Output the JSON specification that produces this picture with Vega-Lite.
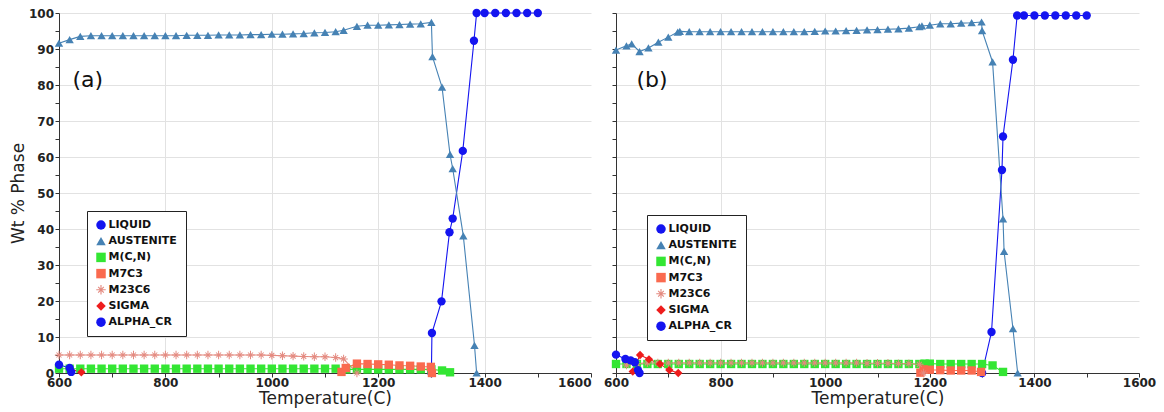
{
  "$schema": "https://vega.github.io/schema/vega-lite/v6.json",
  "background": "white",
  "padding": {"left": 9, "top": 7, "right": 5, "bottom": 5},
  "spacing": 11,
  "config": {
    "view": {"stroke": null},
    "axis": {
      "labelFont": "DejaVu Sans", "labelFontWeight": "bold", "labelFontSize": 12, "labelColor": "#222",
      "titleFont": "DejaVu Sans", "titleFontWeight": "normal", "titleFontSize": 17, "titleColor": "#222",
      "domainColor": "#333", "tickColor": "#333", "gridColor": "#e2e2e2", "labelOverlap": false
    },
    "legend": {
      "labelFont": "DejaVu Sans", "labelFontWeight": "bold", "labelFontSize": 11, "labelColor": "#111",
      "symbolSize": 90, "symbolStrokeWidth": 0, "strokeColor": "#222", "fillColor": "white",
      "padding": 8.5, "rowPadding": 4.2, "labelOffset": 2, "symbolOpacity": 1
    }
  },
  "resolve": {
    "scale": {"color": "independent", "shape": "independent"},
    "legend": {"color": "independent", "shape": "independent"}
  },
  "datasets": {
    "labels": [
      {"panel": "a", "temp": 654, "wt": 81.4, "label": "(a)"},
      {"panel": "b", "temp": 669, "wt": 81.4, "label": "(b)"}
    ],
    "pts": [
      {"panel":"a","phase":"LIQUID","temp":1300,"wt":0},
      {"panel":"a","phase":"LIQUID","temp":1301,"wt":11.1},
      {"panel":"a","phase":"LIQUID","temp":1319,"wt":19.9},
      {"panel":"a","phase":"LIQUID","temp":1334,"wt":39.1},
      {"panel":"a","phase":"LIQUID","temp":1340,"wt":42.9},
      {"panel":"a","phase":"LIQUID","temp":1359,"wt":61.7},
      {"panel":"a","phase":"LIQUID","temp":1380,"wt":92.3},
      {"panel":"a","phase":"LIQUID","temp":1385,"wt":100},
      {"panel":"a","phase":"LIQUID","temp":1400,"wt":100},
      {"panel":"a","phase":"LIQUID","temp":1420,"wt":100},
      {"panel":"a","phase":"LIQUID","temp":1440,"wt":100},
      {"panel":"a","phase":"LIQUID","temp":1460,"wt":100},
      {"panel":"a","phase":"LIQUID","temp":1480,"wt":100},
      {"panel":"a","phase":"LIQUID","temp":1500,"wt":100},

      {"panel":"a","phase":"AUSTENITE","temp":600,"wt":91.6},
      {"panel":"a","phase":"AUSTENITE","temp":620,"wt":92.6},
      {"panel":"a","phase":"AUSTENITE","temp":640,"wt":93.5},
      {"panel":"a","phase":"AUSTENITE","temp":660,"wt":93.7},
      {"panel":"a","phase":"AUSTENITE","temp":680,"wt":93.7},
      {"panel":"a","phase":"AUSTENITE","temp":700,"wt":93.7},
      {"panel":"a","phase":"AUSTENITE","temp":720,"wt":93.7},
      {"panel":"a","phase":"AUSTENITE","temp":740,"wt":93.7},
      {"panel":"a","phase":"AUSTENITE","temp":760,"wt":93.7},
      {"panel":"a","phase":"AUSTENITE","temp":780,"wt":93.7},
      {"panel":"a","phase":"AUSTENITE","temp":800,"wt":93.7},
      {"panel":"a","phase":"AUSTENITE","temp":820,"wt":93.7},
      {"panel":"a","phase":"AUSTENITE","temp":840,"wt":93.8},
      {"panel":"a","phase":"AUSTENITE","temp":860,"wt":93.8},
      {"panel":"a","phase":"AUSTENITE","temp":880,"wt":93.8},
      {"panel":"a","phase":"AUSTENITE","temp":900,"wt":93.9},
      {"panel":"a","phase":"AUSTENITE","temp":920,"wt":93.9},
      {"panel":"a","phase":"AUSTENITE","temp":940,"wt":93.9},
      {"panel":"a","phase":"AUSTENITE","temp":960,"wt":94.0},
      {"panel":"a","phase":"AUSTENITE","temp":980,"wt":94.0},
      {"panel":"a","phase":"AUSTENITE","temp":1000,"wt":94.1},
      {"panel":"a","phase":"AUSTENITE","temp":1020,"wt":94.1},
      {"panel":"a","phase":"AUSTENITE","temp":1040,"wt":94.2},
      {"panel":"a","phase":"AUSTENITE","temp":1060,"wt":94.3},
      {"panel":"a","phase":"AUSTENITE","temp":1080,"wt":94.5},
      {"panel":"a","phase":"AUSTENITE","temp":1100,"wt":94.6},
      {"panel":"a","phase":"AUSTENITE","temp":1120,"wt":94.8},
      {"panel":"a","phase":"AUSTENITE","temp":1135,"wt":95.2},
      {"panel":"a","phase":"AUSTENITE","temp":1160,"wt":96.3},
      {"panel":"a","phase":"AUSTENITE","temp":1180,"wt":96.6},
      {"panel":"a","phase":"AUSTENITE","temp":1200,"wt":96.6},
      {"panel":"a","phase":"AUSTENITE","temp":1220,"wt":96.7},
      {"panel":"a","phase":"AUSTENITE","temp":1240,"wt":96.8},
      {"panel":"a","phase":"AUSTENITE","temp":1260,"wt":96.9},
      {"panel":"a","phase":"AUSTENITE","temp":1280,"wt":97.0},
      {"panel":"a","phase":"AUSTENITE","temp":1300,"wt":97.4},
      {"panel":"a","phase":"AUSTENITE","temp":1302,"wt":87.9},
      {"panel":"a","phase":"AUSTENITE","temp":1320,"wt":79.4},
      {"panel":"a","phase":"AUSTENITE","temp":1335,"wt":60.7},
      {"panel":"a","phase":"AUSTENITE","temp":1340,"wt":56.8},
      {"panel":"a","phase":"AUSTENITE","temp":1360,"wt":38.1},
      {"panel":"a","phase":"AUSTENITE","temp":1381,"wt":7.7},
      {"panel":"a","phase":"AUSTENITE","temp":1385,"wt":0},

      {"panel":"a","phase":"M(C,N)","temp":600,"wt":1.2},
      {"panel":"a","phase":"M(C,N)","temp":620,"wt":1.2},
      {"panel":"a","phase":"M(C,N)","temp":640,"wt":1.2},
      {"panel":"a","phase":"M(C,N)","temp":660,"wt":1.2},
      {"panel":"a","phase":"M(C,N)","temp":680,"wt":1.2},
      {"panel":"a","phase":"M(C,N)","temp":700,"wt":1.2},
      {"panel":"a","phase":"M(C,N)","temp":720,"wt":1.2},
      {"panel":"a","phase":"M(C,N)","temp":740,"wt":1.2},
      {"panel":"a","phase":"M(C,N)","temp":760,"wt":1.2},
      {"panel":"a","phase":"M(C,N)","temp":780,"wt":1.2},
      {"panel":"a","phase":"M(C,N)","temp":800,"wt":1.2},
      {"panel":"a","phase":"M(C,N)","temp":820,"wt":1.2},
      {"panel":"a","phase":"M(C,N)","temp":840,"wt":1.2},
      {"panel":"a","phase":"M(C,N)","temp":860,"wt":1.2},
      {"panel":"a","phase":"M(C,N)","temp":880,"wt":1.2},
      {"panel":"a","phase":"M(C,N)","temp":900,"wt":1.2},
      {"panel":"a","phase":"M(C,N)","temp":920,"wt":1.2},
      {"panel":"a","phase":"M(C,N)","temp":940,"wt":1.2},
      {"panel":"a","phase":"M(C,N)","temp":960,"wt":1.2},
      {"panel":"a","phase":"M(C,N)","temp":980,"wt":1.2},
      {"panel":"a","phase":"M(C,N)","temp":1000,"wt":1.2},
      {"panel":"a","phase":"M(C,N)","temp":1020,"wt":1.2},
      {"panel":"a","phase":"M(C,N)","temp":1040,"wt":1.2},
      {"panel":"a","phase":"M(C,N)","temp":1060,"wt":1.2},
      {"panel":"a","phase":"M(C,N)","temp":1080,"wt":1.2},
      {"panel":"a","phase":"M(C,N)","temp":1100,"wt":1.2},
      {"panel":"a","phase":"M(C,N)","temp":1120,"wt":1.2},
      {"panel":"a","phase":"M(C,N)","temp":1140,"wt":1.0},
      {"panel":"a","phase":"M(C,N)","temp":1160,"wt":1.0},
      {"panel":"a","phase":"M(C,N)","temp":1180,"wt":1.0},
      {"panel":"a","phase":"M(C,N)","temp":1200,"wt":1.0},
      {"panel":"a","phase":"M(C,N)","temp":1220,"wt":1.0},
      {"panel":"a","phase":"M(C,N)","temp":1240,"wt":1.0},
      {"panel":"a","phase":"M(C,N)","temp":1260,"wt":1.0},
      {"panel":"a","phase":"M(C,N)","temp":1280,"wt":1.0},
      {"panel":"a","phase":"M(C,N)","temp":1300,"wt":1.0},
      {"panel":"a","phase":"M(C,N)","temp":1320,"wt":0.7},
      {"panel":"a","phase":"M(C,N)","temp":1335,"wt":0.2},

      {"panel":"a","phase":"M7C3","temp":1131,"wt":0.3},
      {"panel":"a","phase":"M7C3","temp":1139,"wt":1.4},
      {"panel":"a","phase":"M7C3","temp":1160,"wt":2.6},
      {"panel":"a","phase":"M7C3","temp":1180,"wt":2.5},
      {"panel":"a","phase":"M7C3","temp":1200,"wt":2.4},
      {"panel":"a","phase":"M7C3","temp":1220,"wt":2.3},
      {"panel":"a","phase":"M7C3","temp":1240,"wt":2.1},
      {"panel":"a","phase":"M7C3","temp":1260,"wt":2.0},
      {"panel":"a","phase":"M7C3","temp":1280,"wt":1.8},
      {"panel":"a","phase":"M7C3","temp":1299,"wt":1.7},
      {"panel":"a","phase":"M7C3","temp":1301,"wt":0},

      {"panel":"a","phase":"M23C6","temp":600,"wt":5.0},
      {"panel":"a","phase":"M23C6","temp":620,"wt":5.0},
      {"panel":"a","phase":"M23C6","temp":640,"wt":5.0},
      {"panel":"a","phase":"M23C6","temp":660,"wt":5.0},
      {"panel":"a","phase":"M23C6","temp":680,"wt":5.0},
      {"panel":"a","phase":"M23C6","temp":700,"wt":5.0},
      {"panel":"a","phase":"M23C6","temp":720,"wt":5.0},
      {"panel":"a","phase":"M23C6","temp":740,"wt":5.0},
      {"panel":"a","phase":"M23C6","temp":760,"wt":5.0},
      {"panel":"a","phase":"M23C6","temp":780,"wt":5.0},
      {"panel":"a","phase":"M23C6","temp":800,"wt":5.0},
      {"panel":"a","phase":"M23C6","temp":820,"wt":5.0},
      {"panel":"a","phase":"M23C6","temp":840,"wt":5.0},
      {"panel":"a","phase":"M23C6","temp":860,"wt":5.0},
      {"panel":"a","phase":"M23C6","temp":880,"wt":5.0},
      {"panel":"a","phase":"M23C6","temp":900,"wt":5.0},
      {"panel":"a","phase":"M23C6","temp":920,"wt":5.0},
      {"panel":"a","phase":"M23C6","temp":940,"wt":5.0},
      {"panel":"a","phase":"M23C6","temp":960,"wt":5.0},
      {"panel":"a","phase":"M23C6","temp":980,"wt":5.0},
      {"panel":"a","phase":"M23C6","temp":1000,"wt":4.9},
      {"panel":"a","phase":"M23C6","temp":1020,"wt":4.8},
      {"panel":"a","phase":"M23C6","temp":1040,"wt":4.7},
      {"panel":"a","phase":"M23C6","temp":1060,"wt":4.6},
      {"panel":"a","phase":"M23C6","temp":1080,"wt":4.5},
      {"panel":"a","phase":"M23C6","temp":1100,"wt":4.5},
      {"panel":"a","phase":"M23C6","temp":1120,"wt":4.3},
      {"panel":"a","phase":"M23C6","temp":1135,"wt":3.9},
      {"panel":"a","phase":"M23C6","temp":1160,"wt":0},

      {"panel":"a","phase":"SIGMA","temp":620,"wt":1.2},
      {"panel":"a","phase":"SIGMA","temp":642,"wt":0.2},

      {"panel":"a","phase":"ALPHA_CR","temp":600,"wt":2.3},
      {"panel":"a","phase":"ALPHA_CR","temp":620,"wt":1.4},
      {"panel":"a","phase":"ALPHA_CR","temp":623,"wt":0.3},

      {"panel":"b","phase":"LIQUID","temp":1300,"wt":0},
      {"panel":"b","phase":"LIQUID","temp":1318,"wt":11.4},
      {"panel":"b","phase":"LIQUID","temp":1338,"wt":56.4},
      {"panel":"b","phase":"LIQUID","temp":1340,"wt":65.7},
      {"panel":"b","phase":"LIQUID","temp":1359,"wt":87.0},
      {"panel":"b","phase":"LIQUID","temp":1367,"wt":99.3},
      {"panel":"b","phase":"LIQUID","temp":1380,"wt":99.3},
      {"panel":"b","phase":"LIQUID","temp":1400,"wt":99.3},
      {"panel":"b","phase":"LIQUID","temp":1420,"wt":99.3},
      {"panel":"b","phase":"LIQUID","temp":1440,"wt":99.3},
      {"panel":"b","phase":"LIQUID","temp":1460,"wt":99.3},
      {"panel":"b","phase":"LIQUID","temp":1480,"wt":99.3},
      {"panel":"b","phase":"LIQUID","temp":1500,"wt":99.3},

      {"panel":"b","phase":"AUSTENITE","temp":600,"wt":89.7},
      {"panel":"b","phase":"AUSTENITE","temp":620,"wt":90.9},
      {"panel":"b","phase":"AUSTENITE","temp":630,"wt":91.4},
      {"panel":"b","phase":"AUSTENITE","temp":645,"wt":89.3},
      {"panel":"b","phase":"AUSTENITE","temp":662,"wt":90.3},
      {"panel":"b","phase":"AUSTENITE","temp":681,"wt":91.9},
      {"panel":"b","phase":"AUSTENITE","temp":700,"wt":93.3},
      {"panel":"b","phase":"AUSTENITE","temp":718,"wt":94.7},
      {"panel":"b","phase":"AUSTENITE","temp":722,"wt":94.9},
      {"panel":"b","phase":"AUSTENITE","temp":740,"wt":94.8},
      {"panel":"b","phase":"AUSTENITE","temp":760,"wt":94.8},
      {"panel":"b","phase":"AUSTENITE","temp":780,"wt":94.8},
      {"panel":"b","phase":"AUSTENITE","temp":800,"wt":94.8},
      {"panel":"b","phase":"AUSTENITE","temp":820,"wt":94.8},
      {"panel":"b","phase":"AUSTENITE","temp":840,"wt":94.8},
      {"panel":"b","phase":"AUSTENITE","temp":860,"wt":94.8},
      {"panel":"b","phase":"AUSTENITE","temp":880,"wt":94.8},
      {"panel":"b","phase":"AUSTENITE","temp":900,"wt":94.8},
      {"panel":"b","phase":"AUSTENITE","temp":920,"wt":94.8},
      {"panel":"b","phase":"AUSTENITE","temp":940,"wt":94.8},
      {"panel":"b","phase":"AUSTENITE","temp":960,"wt":94.8},
      {"panel":"b","phase":"AUSTENITE","temp":980,"wt":94.9},
      {"panel":"b","phase":"AUSTENITE","temp":1000,"wt":95.0},
      {"panel":"b","phase":"AUSTENITE","temp":1020,"wt":95.0},
      {"panel":"b","phase":"AUSTENITE","temp":1040,"wt":95.1},
      {"panel":"b","phase":"AUSTENITE","temp":1060,"wt":95.2},
      {"panel":"b","phase":"AUSTENITE","temp":1080,"wt":95.3},
      {"panel":"b","phase":"AUSTENITE","temp":1100,"wt":95.4},
      {"panel":"b","phase":"AUSTENITE","temp":1120,"wt":95.5},
      {"panel":"b","phase":"AUSTENITE","temp":1140,"wt":95.6},
      {"panel":"b","phase":"AUSTENITE","temp":1160,"wt":95.8},
      {"panel":"b","phase":"AUSTENITE","temp":1180,"wt":96.2},
      {"panel":"b","phase":"AUSTENITE","temp":1185,"wt":96.4},
      {"panel":"b","phase":"AUSTENITE","temp":1200,"wt":96.6},
      {"panel":"b","phase":"AUSTENITE","temp":1220,"wt":97.0},
      {"panel":"b","phase":"AUSTENITE","temp":1240,"wt":97.0},
      {"panel":"b","phase":"AUSTENITE","temp":1260,"wt":97.2},
      {"panel":"b","phase":"AUSTENITE","temp":1280,"wt":97.3},
      {"panel":"b","phase":"AUSTENITE","temp":1299,"wt":97.5},
      {"panel":"b","phase":"AUSTENITE","temp":1300,"wt":95.1},
      {"panel":"b","phase":"AUSTENITE","temp":1320,"wt":86.4},
      {"panel":"b","phase":"AUSTENITE","temp":1340,"wt":42.8},
      {"panel":"b","phase":"AUSTENITE","temp":1342,"wt":33.8},
      {"panel":"b","phase":"AUSTENITE","temp":1359,"wt":12.3},
      {"panel":"b","phase":"AUSTENITE","temp":1368,"wt":0},

      {"panel":"b","phase":"M(C,N)","temp":600,"wt":2.5},
      {"panel":"b","phase":"M(C,N)","temp":620,"wt":2.5},
      {"panel":"b","phase":"M(C,N)","temp":640,"wt":2.5},
      {"panel":"b","phase":"M(C,N)","temp":660,"wt":2.5},
      {"panel":"b","phase":"M(C,N)","temp":680,"wt":2.5},
      {"panel":"b","phase":"M(C,N)","temp":700,"wt":2.5},
      {"panel":"b","phase":"M(C,N)","temp":720,"wt":2.5},
      {"panel":"b","phase":"M(C,N)","temp":740,"wt":2.5},
      {"panel":"b","phase":"M(C,N)","temp":760,"wt":2.5},
      {"panel":"b","phase":"M(C,N)","temp":780,"wt":2.5},
      {"panel":"b","phase":"M(C,N)","temp":800,"wt":2.5},
      {"panel":"b","phase":"M(C,N)","temp":820,"wt":2.5},
      {"panel":"b","phase":"M(C,N)","temp":840,"wt":2.5},
      {"panel":"b","phase":"M(C,N)","temp":860,"wt":2.5},
      {"panel":"b","phase":"M(C,N)","temp":880,"wt":2.5},
      {"panel":"b","phase":"M(C,N)","temp":900,"wt":2.5},
      {"panel":"b","phase":"M(C,N)","temp":920,"wt":2.5},
      {"panel":"b","phase":"M(C,N)","temp":940,"wt":2.5},
      {"panel":"b","phase":"M(C,N)","temp":960,"wt":2.5},
      {"panel":"b","phase":"M(C,N)","temp":980,"wt":2.5},
      {"panel":"b","phase":"M(C,N)","temp":1000,"wt":2.5},
      {"panel":"b","phase":"M(C,N)","temp":1020,"wt":2.5},
      {"panel":"b","phase":"M(C,N)","temp":1040,"wt":2.5},
      {"panel":"b","phase":"M(C,N)","temp":1060,"wt":2.5},
      {"panel":"b","phase":"M(C,N)","temp":1080,"wt":2.5},
      {"panel":"b","phase":"M(C,N)","temp":1100,"wt":2.5},
      {"panel":"b","phase":"M(C,N)","temp":1120,"wt":2.5},
      {"panel":"b","phase":"M(C,N)","temp":1140,"wt":2.5},
      {"panel":"b","phase":"M(C,N)","temp":1160,"wt":2.5},
      {"panel":"b","phase":"M(C,N)","temp":1180,"wt":2.5},
      {"panel":"b","phase":"M(C,N)","temp":1190,"wt":2.6},
      {"panel":"b","phase":"M(C,N)","temp":1200,"wt":2.6},
      {"panel":"b","phase":"M(C,N)","temp":1220,"wt":2.5},
      {"panel":"b","phase":"M(C,N)","temp":1240,"wt":2.5},
      {"panel":"b","phase":"M(C,N)","temp":1260,"wt":2.5},
      {"panel":"b","phase":"M(C,N)","temp":1280,"wt":2.5},
      {"panel":"b","phase":"M(C,N)","temp":1300,"wt":2.5},
      {"panel":"b","phase":"M(C,N)","temp":1320,"wt":2.1},
      {"panel":"b","phase":"M(C,N)","temp":1340,"wt":0.3},

      {"panel":"b","phase":"M7C3","temp":1182,"wt":0.1},
      {"panel":"b","phase":"M7C3","temp":1188,"wt":1.0},
      {"panel":"b","phase":"M7C3","temp":1200,"wt":0.9},
      {"panel":"b","phase":"M7C3","temp":1220,"wt":0.8},
      {"panel":"b","phase":"M7C3","temp":1240,"wt":0.7},
      {"panel":"b","phase":"M7C3","temp":1260,"wt":0.7},
      {"panel":"b","phase":"M7C3","temp":1280,"wt":0.7},
      {"panel":"b","phase":"M7C3","temp":1298,"wt":0.3},

      {"panel":"b","phase":"M23C6","temp":620,"wt":2.2},
      {"panel":"b","phase":"M23C6","temp":640,"wt":2.6},
      {"panel":"b","phase":"M23C6","temp":660,"wt":2.8},
      {"panel":"b","phase":"M23C6","temp":680,"wt":2.8},
      {"panel":"b","phase":"M23C6","temp":700,"wt":2.8},
      {"panel":"b","phase":"M23C6","temp":720,"wt":2.8},
      {"panel":"b","phase":"M23C6","temp":740,"wt":2.8},
      {"panel":"b","phase":"M23C6","temp":760,"wt":2.8},
      {"panel":"b","phase":"M23C6","temp":780,"wt":2.8},
      {"panel":"b","phase":"M23C6","temp":800,"wt":2.8},
      {"panel":"b","phase":"M23C6","temp":820,"wt":2.8},
      {"panel":"b","phase":"M23C6","temp":840,"wt":2.8},
      {"panel":"b","phase":"M23C6","temp":860,"wt":2.8},
      {"panel":"b","phase":"M23C6","temp":880,"wt":2.8},
      {"panel":"b","phase":"M23C6","temp":900,"wt":2.8},
      {"panel":"b","phase":"M23C6","temp":920,"wt":2.8},
      {"panel":"b","phase":"M23C6","temp":940,"wt":2.8},
      {"panel":"b","phase":"M23C6","temp":960,"wt":2.8},
      {"panel":"b","phase":"M23C6","temp":980,"wt":2.8},
      {"panel":"b","phase":"M23C6","temp":1000,"wt":2.8},
      {"panel":"b","phase":"M23C6","temp":1020,"wt":2.8},
      {"panel":"b","phase":"M23C6","temp":1040,"wt":2.8},
      {"panel":"b","phase":"M23C6","temp":1060,"wt":2.8},
      {"panel":"b","phase":"M23C6","temp":1080,"wt":2.7},
      {"panel":"b","phase":"M23C6","temp":1100,"wt":2.7},
      {"panel":"b","phase":"M23C6","temp":1120,"wt":2.7},
      {"panel":"b","phase":"M23C6","temp":1140,"wt":2.6},
      {"panel":"b","phase":"M23C6","temp":1160,"wt":2.6},
      {"panel":"b","phase":"M23C6","temp":1180,"wt":2.4},
      {"panel":"b","phase":"M23C6","temp":1188,"wt":0},

      {"panel":"b","phase":"SIGMA","temp":632,"wt":0.4},
      {"panel":"b","phase":"SIGMA","temp":646,"wt":5.0},
      {"panel":"b","phase":"SIGMA","temp":663,"wt":3.8},
      {"panel":"b","phase":"SIGMA","temp":684,"wt":2.5},
      {"panel":"b","phase":"SIGMA","temp":702,"wt":0.8},
      {"panel":"b","phase":"SIGMA","temp":719,"wt":0},

      {"panel":"b","phase":"ALPHA_CR","temp":600,"wt":5.1},
      {"panel":"b","phase":"ALPHA_CR","temp":618,"wt":3.9},
      {"panel":"b","phase":"ALPHA_CR","temp":628,"wt":3.5},
      {"panel":"b","phase":"ALPHA_CR","temp":636,"wt":3.0},
      {"panel":"b","phase":"ALPHA_CR","temp":642,"wt":0.8},
      {"panel":"b","phase":"ALPHA_CR","temp":645,"wt":0}
    ]
  },
  "hconcat": [
    {
      "width": 532,
      "height": 360,
      "encoding": {
        "x": {"field": "temp", "type": "quantitative", "title": "Temperature(C)",
          "scale": {"domain": [600, 1600], "nice": false, "zero": false},
          "axis": {"values": [600,700,800,900,1000,1100,1200,1300,1400,1500,1600], "format": "d",
            "labelExpr": "datum.value % 200 === 0 ? datum.label : ''", "labelOverlap": false, "labelFlush": false,
            "gridOpacity": {"condition": {"test": "datum.value % 200 !== 0 || datum.value === 600 || datum.value === 1600", "value": 0}, "value": 1},
            "labelAlign": {"condition": {"test": "datum.value === 1600", "value": "right"}, "value": "center"},
            "tickSize": 4, "labelPadding": 0, "titlePadding": 2}},
        "y": {"field": "wt", "type": "quantitative", "title": "Wt % Phase",
          "scale": {"domain": [0, 100], "nice": false},
          "axis": {"values": [0,5,10,15,20,25,30,35,40,45,50,55,60,65,70,75,80,85,90,95,100], "format": "d",
            "labelExpr": "datum.value % 10 === 0 ? datum.label : ''", "labelOverlap": false,
            "gridOpacity": {"condition": {"test": "datum.value % 10 !== 0", "value": 0}, "value": 1},
            "tickSize": 4, "labelPadding": 1.5, "titlePadding": 1}}
      },
      "layer": [
        {
          "data": {"name": "pts"},
          "transform": [{"filter": "datum.panel === 'a'"}],
          "mark": {"type": "line", "strokeWidth": 1.1},
          "encoding": {
            "color": {"field": "phase", "type": "nominal",
              "scale": {"domain": ["LIQUID","AUSTENITE","M(C,N)","M7C3","M23C6","SIGMA","ALPHA_CR"],
                        "range": ["#1414f0","#4682b4","#33e633","#fa6a4f","#e48a80","#ee1c1c","#1414f0"]},
              "legend": {"orient": "none", "legendX": 28, "legendY": 198, "title": null}}
          }
        },
        {
          "data": {"name": "pts"},
          "transform": [{"filter": "datum.panel === 'a'"}],
          "mark": {"type": "point", "filled": true, "size": 70, "opacity": 1},
          "encoding": {
            "color": {"field": "phase", "type": "nominal",
              "scale": {"domain": ["LIQUID","AUSTENITE","M(C,N)","M7C3","M23C6","SIGMA","ALPHA_CR"],
                        "range": ["#1414f0","#4682b4","#33e633","#fa6a4f","#e48a80","#ee1c1c","#1414f0"]},
              "legend": {"orient": "none", "legendX": 28, "legendY": 198, "title": null}},
            "shape": {"field": "phase", "type": "nominal",
              "scale": {"domain": ["LIQUID","AUSTENITE","M(C,N)","M7C3","M23C6","SIGMA","ALPHA_CR"],
                        "range": ["circle","triangle-up","square","square","M-0.12,-1L0.12,-1L0.12,1L-0.12,1ZM-1,-0.12L1,-0.12L1,0.12L-1,0.12ZM-0.515,-0.685L0.685,0.515L0.515,0.685L-0.685,-0.515ZM-0.685,0.515L0.515,-0.685L0.685,-0.515L-0.515,0.685Z","diamond","circle"]},
              "legend": {"orient": "none", "legendX": 28, "legendY": 198, "title": null}}
          }
        },
        {
          "data": {"name": "labels"},
          "transform": [{"filter": "datum.panel === 'a'"}],
          "mark": {"type": "text", "font": "DejaVu Sans", "fontSize": 22, "color": "#111"},
          "encoding": {"text": {"field": "label"}}
        }
      ]
    },
    {
      "width": 523,
      "height": 360,
      "encoding": {
        "x": {"field": "temp", "type": "quantitative", "title": "Temperature(C)",
          "scale": {"domain": [600, 1600], "nice": false, "zero": false},
          "axis": {"values": [600,700,800,900,1000,1100,1200,1300,1400,1500,1600], "format": "d",
            "labelExpr": "datum.value % 200 === 0 ? datum.label : ''", "labelOverlap": false, "labelFlush": false,
            "gridOpacity": {"condition": {"test": "datum.value % 200 !== 0 || datum.value === 600 || datum.value === 1600", "value": 0}, "value": 1},
            "tickSize": 4, "labelPadding": 0, "titlePadding": 2}},
        "y": {"field": "wt", "type": "quantitative", "title": null,
          "scale": {"domain": [0, 100], "nice": false},
          "axis": {"values": [0,5,10,15,20,25,30,35,40,45,50,55,60,65,70,75,80,85,90,95,100],
            "labels": false,
            "gridOpacity": {"condition": {"test": "datum.value % 10 !== 0", "value": 0}, "value": 1},
            "tickSize": 4}}
      },
      "layer": [
        {
          "data": {"name": "pts"},
          "transform": [{"filter": "datum.panel === 'b'"}],
          "mark": {"type": "line", "strokeWidth": 1.1},
          "encoding": {
            "color": {"field": "phase", "type": "nominal",
              "scale": {"domain": ["LIQUID","AUSTENITE","M(C,N)","M7C3","M23C6","SIGMA","ALPHA_CR"],
                        "range": ["#1414f0","#4682b4","#33e633","#fa6a4f","#e48a80","#ee1c1c","#1414f0"]},
              "legend": {"orient": "none", "legendX": 31, "legendY": 202, "title": null}}
          }
        },
        {
          "data": {"name": "pts"},
          "transform": [{"filter": "datum.panel === 'b'"}],
          "mark": {"type": "point", "filled": true, "size": 70, "opacity": 1},
          "encoding": {
            "color": {"field": "phase", "type": "nominal",
              "scale": {"domain": ["LIQUID","AUSTENITE","M(C,N)","M7C3","M23C6","SIGMA","ALPHA_CR"],
                        "range": ["#1414f0","#4682b4","#33e633","#fa6a4f","#e48a80","#ee1c1c","#1414f0"]},
              "legend": {"orient": "none", "legendX": 31, "legendY": 202, "title": null}},
            "shape": {"field": "phase", "type": "nominal",
              "scale": {"domain": ["LIQUID","AUSTENITE","M(C,N)","M7C3","M23C6","SIGMA","ALPHA_CR"],
                        "range": ["circle","triangle-up","square","square","M-0.12,-1L0.12,-1L0.12,1L-0.12,1ZM-1,-0.12L1,-0.12L1,0.12L-1,0.12ZM-0.515,-0.685L0.685,0.515L0.515,0.685L-0.685,-0.515ZM-0.685,0.515L0.515,-0.685L0.685,-0.515L-0.515,0.685Z","diamond","circle"]},
              "legend": {"orient": "none", "legendX": 31, "legendY": 202, "title": null}}
          }
        },
        {
          "data": {"name": "labels"},
          "transform": [{"filter": "datum.panel === 'b'"}],
          "mark": {"type": "text", "font": "DejaVu Sans", "fontSize": 22, "color": "#111"},
          "encoding": {"text": {"field": "label"}}
        }
      ]
    }
  ]
}
